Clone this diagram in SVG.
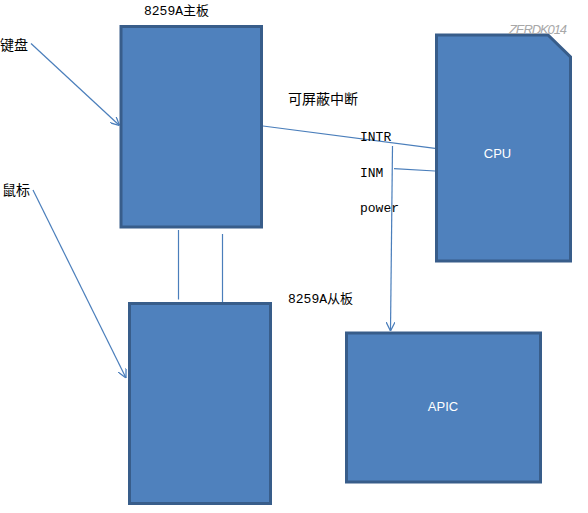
<svg xmlns="http://www.w3.org/2000/svg" width="588" height="513" viewBox="0 0 588 513">
<style>
.box{fill:#4f81bd;stroke:#385d8a;stroke-width:3}
.ln{stroke:#4a7ebb;stroke-width:1.2;fill:none}
.t{font-family:"Liberation Mono","Noto Sans CJK SC",monospace;font-size:13px;fill:#000}
.c{font-family:"Noto Sans CJK SC",sans-serif;font-size:14px;fill:#000}
.w{font-family:"Liberation Sans","Noto Sans",sans-serif;font-size:13px;fill:#fff;text-anchor:middle}
</style>
<defs>
<marker id="arr" viewBox="0 0 10 10" refX="10" refY="5" markerWidth="9" markerHeight="9" markerUnits="userSpaceOnUse" orient="auto">
<path d="M0,0 L10,5 L0,10" fill="none" stroke="#4a7ebb" stroke-width="1.4"/>
</marker>
</defs>
<rect width="588" height="513" fill="#fff"/>
<g id="connectors">
<line class="ln" x1="31" y1="43.5" x2="119.5" y2="125.5" marker-end="url(#arr)"/>
<line class="ln" x1="33" y1="190" x2="126" y2="378" marker-end="url(#arr)"/>
<line class="ln" x1="263" y1="126" x2="435" y2="148.3"/>
<line class="ln" x1="394" y1="168.7" x2="435" y2="171"/>
<line class="ln" x1="392.5" y1="146" x2="390.5" y2="331" marker-end="url(#arr)"/>
<line class="ln" x1="178.5" y1="230" x2="178.5" y2="299.5"/>
<line class="ln" x1="222.5" y1="234" x2="222.5" y2="302"/>
</g>
<g id="main8259">
<rect class="box" x="121" y="26.5" width="140.5" height="200.5"/>
<text class="t" x="144" y="15">8259A主板</text>
</g>
<g id="slave8259">
<rect class="box" x="129.5" y="303.5" width="141" height="200"/>
<text class="t" x="288" y="303">8259A从板</text>
</g>
<g id="cpu">
<path class="box" d="M436.5,35 L548,35 L570.5,57 L570.5,261 L436.5,261 Z"/>
<text class="w" x="497.5" y="158">CPU</text>
</g>
<g id="apic">
<rect class="box" x="346.5" y="333" width="194" height="149"/>
<text class="w" x="443" y="411">APIC</text>
</g>
<g id="labels">
<text class="c" x="0" y="50">键盘</text>
<text class="c" x="2" y="195">鼠标</text>
<text class="c" x="288" y="104">可屏蔽中断</text>
<text class="t" x="360" y="141">INTR</text>
<text class="t" x="360" y="177">INM</text>
<text class="t" x="360" y="212">power</text>
<text x="509" y="34" font-family="Liberation Sans,sans-serif" font-size="13" font-style="italic" fill="#a8a8a8" textLength="58">ZERDK014</text>
</g>
</svg>
